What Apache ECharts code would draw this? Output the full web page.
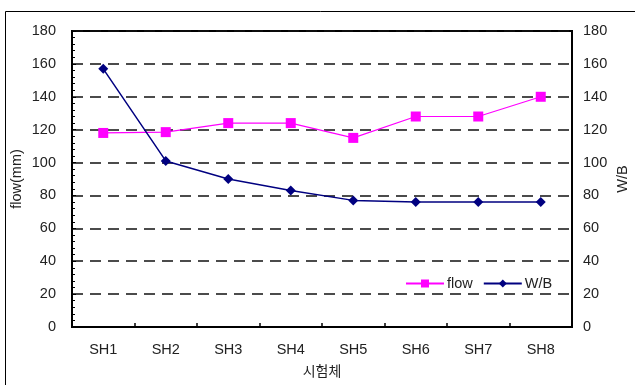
<!DOCTYPE html>
<html>
<head>
<meta charset="utf-8">
<script src="https://cdn.jsdelivr.net/npm/echarts@6/dist/echarts.min.js"></script>
<style>
  html, body { margin: 0; padding: 0; background: #fff; }
  #chart { width: 635px; height: 385px; }
</style>
</head>
<body>
<div id="chart"></div>
<script>
// Specimens and measured values
const categories = ['SH1', 'SH2', 'SH3', 'SH4', 'SH5', 'SH6', 'SH7', 'SH8'];
const flowValues = [118, 118.5, 124, 124, 115, 128, 128, 140];
const wbValues = [157, 101, 90, 83, 77, 76, 76, 76];
const yTicks = [0, 20, 40, 60, 80, 100, 120, 140, 160, 180];

const FONT = '"Liberation Sans", Arial, sans-serif';
const FS = 14.5;
const TEXT = '#222';

const chart = echarts.init(document.getElementById('chart'), null, { renderer: 'canvas' });

const yAxisBase = {
  type: 'value',
  min: yTicks[0],
  max: yTicks[yTicks.length - 1],
  interval: yTicks[1] - yTicks[0],
  nameLocation: 'middle',
  nameMoveOverlap: false,
  nameTextStyle: { fontFamily: FONT, fontSize: FS, color: TEXT },
  axisLine: { show: true, lineStyle: { color: '#000', width: 2 } },
  axisLabel: { fontFamily: FONT, fontSize: FS, color: TEXT }
};

chart.setOption({
  animation: false,
  backgroundColor: '#fff',
  graphic: [{
    type: 'rect',
    shape: { x: 5.5, y: 11.5, width: 700, height: 500 },
    style: { fill: null, stroke: '#000', lineWidth: 1 },
    silent: true,
    z: -10
  }],
  grid: {
    left: 72, right: 63, top: 31, bottom: 58,
    containLabel: false,
    outerBoundsMode: 'none',
    show: true, borderColor: '#000', borderWidth: 2
  },
  legend: {
    left: 400,
    top: 271,
    itemWidth: 38,
    itemHeight: 10,
    itemGap: 10,
    textStyle: { fontFamily: FONT, fontSize: FS, color: TEXT, padding: [0, 0, 0, -2] },
    data: ['flow', 'W/B']
  },
  xAxis: {
    type: 'category',
    data: categories,
    boundaryGap: true,
    name: '시험체',
    nameLocation: 'middle',
    nameMoveOverlap: false,
    nameGap: 37,
    nameTextStyle: { fontFamily: '"Noto Sans CJK KR", sans-serif', fontSize: 14, color: TEXT },
    axisLine: { lineStyle: { color: '#000', width: 2 } },
    axisTick: { show: true, inside: true, length: 4, lineStyle: { color: '#000', width: 1.5 } },
    axisLabel: { fontFamily: FONT, fontSize: FS, color: TEXT, margin: 15 }
  },
  yAxis: [
    Object.assign({}, yAxisBase, {
      position: 'left',
      name: 'flow(mm)',
      nameGap: 48,
      axisTick: { show: true, inside: true, length: 4, lineStyle: { color: '#000' } },
      minorTick: { show: true, splitNumber: 5, length: 3, lineStyle: { color: '#000' } },
      axisLabel: Object.assign({}, yAxisBase.axisLabel, { margin: 16 }),
      splitLine: { show: true, lineStyle: { color: '#111', width: 1.5, type: [11, 7] } }
    }),
    Object.assign({}, yAxisBase, {
      position: 'right',
      name: 'W/B',
      nameGap: 43,
      axisTick: { show: false },
      axisLabel: Object.assign({}, yAxisBase.axisLabel, { margin: 11 }),
      splitLine: { show: false }
    })
  ],
  series: [
    {
      name: 'flow',
      type: 'line',
      data: flowValues,
      yAxisIndex: 0,
      symbol: 'rect',
      symbolSize: 10,
      lineStyle: { color: '#ff00ff', width: 1.2 },
      itemStyle: { color: '#ff00ff' }
    },
    {
      name: 'W/B',
      type: 'line',
      data: wbValues,
      yAxisIndex: 1,
      symbol: 'diamond',
      symbolSize: 10,
      lineStyle: { color: '#000080', width: 1.5 },
      itemStyle: { color: '#000080' }
    }
  ]
});
</script>
</body>
</html>
